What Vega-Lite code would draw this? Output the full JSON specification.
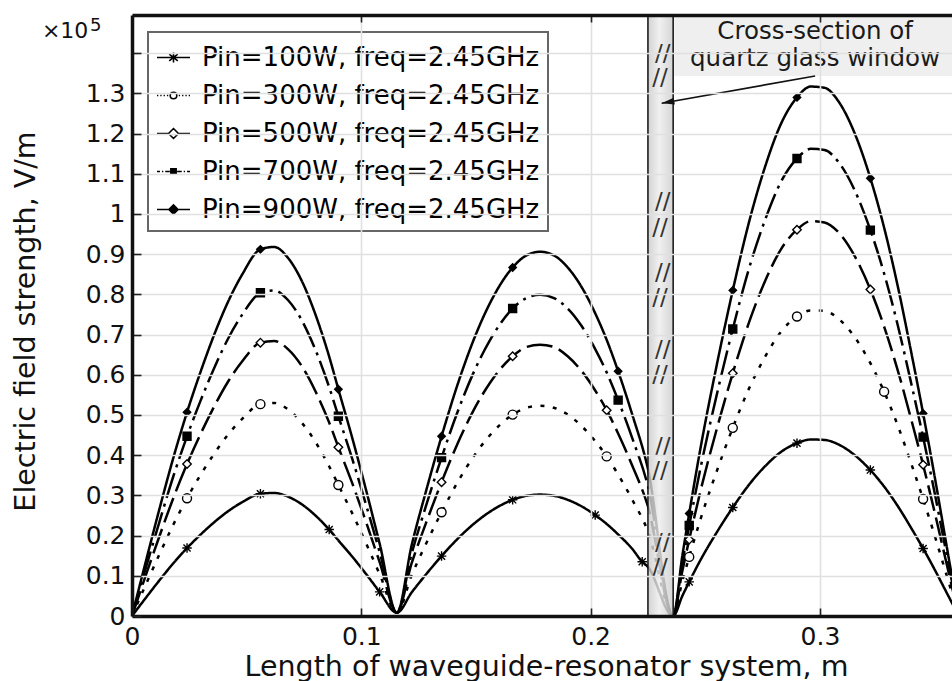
{
  "$schema": "https://vega.github.io/schema/vega-lite/v6.json",
  "width": 820,
  "height": 601,
  "autosize": {"type": "none"},
  "padding": {"left": 132, "top": 15, "right": 0, "bottom": 65},
  "background": "white",
  "config": {
    "view": {"stroke": null},
    "font": "DejaVu Sans",
    "axis": {"domainColor": "#111", "domainWidth": 3.5, "tickColor": "#222", "tickWidth": 1.6, "gridColor": "#e0e0e0", "gridWidth": 1.6, "labelFont": "DejaVu Sans", "labelFontSize": 25, "labelColor": "#111", "titleFont": "DejaVu Sans", "titleFontSize": 28.5, "titleFontWeight": "normal", "titleColor": "#111", "labelFlush": false, "labelOverlap": false},
    "legend": {"strokeWidth": 2}
  },
  "datasets": {
    "c": [
      {"s":"100","x":0,"y":0},{"s":"100","x":0.006,"y":0.045},{"s":"100","x":0.012,"y":0.089},{"s":"100","x":0.018,"y":0.131},{"s":"100","x":0.024,"y":0.169,"m":1},{"s":"100","x":0.03,"y":0.203},{"s":"100","x":0.036,"y":0.234},{"s":"100","x":0.042,"y":0.261},{"s":"100","x":0.048,"y":0.283},{"s":"100","x":0.056,"y":0.304,"m":1},{"s":"100","x":0.062,"y":0.306},{"s":"100","x":0.068,"y":0.297},{"s":"100","x":0.074,"y":0.278},{"s":"100","x":0.08,"y":0.25},{"s":"100","x":0.086,"y":0.215,"m":1},{"s":"100","x":0.09,"y":0.188},{"s":"100","x":0.096,"y":0.148},{"s":"100","x":0.102,"y":0.105},{"s":"100","x":0.108,"y":0.06,"m":1},{"s":"100","x":0.1155,"y":0.008},{"s":"100","x":0.122,"y":0.059},{"s":"100","x":0.128,"y":0.102},{"s":"100","x":0.135,"y":0.149,"m":1},{"s":"100","x":0.142,"y":0.192},{"s":"100","x":0.149,"y":0.229},{"s":"100","x":0.156,"y":0.259},{"s":"100","x":0.166,"y":0.289,"m":1},{"s":"100","x":0.172,"y":0.299},{"s":"100","x":0.178,"y":0.302},{"s":"100","x":0.184,"y":0.299},{"s":"100","x":0.19,"y":0.289},{"s":"100","x":0.196,"y":0.273},{"s":"100","x":0.202,"y":0.251,"m":1},{"s":"100","x":0.207,"y":0.229},{"s":"100","x":0.212,"y":0.203},{"s":"100","x":0.218,"y":0.168},{"s":"100","x":0.2225,"y":0.135,"m":1},{"s":"100","x":0.225,"y":0.122},{"s":"100","x":0.236,"y":0},{"s":"100","x":0.24,"y":0.05},{"s":"100","x":0.243,"y":0.085,"m":1},{"s":"100","x":0.248,"y":0.14},{"s":"100","x":0.255,"y":0.208},{"s":"100","x":0.262,"y":0.27,"m":1},{"s":"100","x":0.269,"y":0.326},{"s":"100","x":0.276,"y":0.372},{"s":"100","x":0.283,"y":0.408},{"s":"100","x":0.29,"y":0.43,"m":1},{"s":"100","x":0.296,"y":0.439},{"s":"100","x":0.302,"y":0.438},{"s":"100","x":0.308,"y":0.427},{"s":"100","x":0.315,"y":0.401},{"s":"100","x":0.322,"y":0.363,"m":1},{"s":"100","x":0.328,"y":0.322},{"s":"100","x":0.334,"y":0.273},{"s":"100","x":0.34,"y":0.217},{"s":"100","x":0.345,"y":0.168,"m":1},{"s":"100","x":0.35,"y":0.116},{"s":"100","x":0.355,"y":0.061},{"s":"100","x":0.36,"y":0.006},

      {"s":"300","x":0,"y":0},{"s":"300","x":0.006,"y":0.078},{"s":"300","x":0.012,"y":0.154},{"s":"300","x":0.018,"y":0.227},{"s":"300","x":0.024,"y":0.293,"m":1},{"s":"300","x":0.03,"y":0.352},{"s":"300","x":0.036,"y":0.405},{"s":"300","x":0.042,"y":0.452},{"s":"300","x":0.048,"y":0.49},{"s":"300","x":0.056,"y":0.527,"m":1},{"s":"300","x":0.062,"y":0.53},{"s":"300","x":0.068,"y":0.514},{"s":"300","x":0.074,"y":0.481},{"s":"300","x":0.08,"y":0.433},{"s":"300","x":0.086,"y":0.372},{"s":"300","x":0.09,"y":0.326,"m":1},{"s":"300","x":0.096,"y":0.256},{"s":"300","x":0.102,"y":0.182},{"s":"300","x":0.108,"y":0.104},{"s":"300","x":0.1155,"y":0.008},{"s":"300","x":0.122,"y":0.102},{"s":"300","x":0.128,"y":0.177},{"s":"300","x":0.135,"y":0.258,"m":1},{"s":"300","x":0.142,"y":0.333},{"s":"300","x":0.149,"y":0.397},{"s":"300","x":0.156,"y":0.449},{"s":"300","x":0.166,"y":0.501,"m":1},{"s":"300","x":0.172,"y":0.518},{"s":"300","x":0.178,"y":0.523},{"s":"300","x":0.184,"y":0.518},{"s":"300","x":0.19,"y":0.501},{"s":"300","x":0.196,"y":0.473},{"s":"300","x":0.202,"y":0.435},{"s":"300","x":0.207,"y":0.397,"m":1},{"s":"300","x":0.212,"y":0.352},{"s":"300","x":0.218,"y":0.291},{"s":"300","x":0.225,"y":0.211},{"s":"300","x":0.236,"y":0},{"s":"300","x":0.24,"y":0.087},{"s":"300","x":0.243,"y":0.147,"m":1},{"s":"300","x":0.248,"y":0.242},{"s":"300","x":0.255,"y":0.36},{"s":"300","x":0.262,"y":0.468,"m":1},{"s":"300","x":0.269,"y":0.565},{"s":"300","x":0.276,"y":0.644},{"s":"300","x":0.283,"y":0.707},{"s":"300","x":0.29,"y":0.745,"m":1},{"s":"300","x":0.296,"y":0.76},{"s":"300","x":0.302,"y":0.759},{"s":"300","x":0.308,"y":0.74},{"s":"300","x":0.315,"y":0.695},{"s":"300","x":0.322,"y":0.629},{"s":"300","x":0.328,"y":0.558,"m":1},{"s":"300","x":0.334,"y":0.473},{"s":"300","x":0.34,"y":0.376},{"s":"300","x":0.345,"y":0.291,"m":1},{"s":"300","x":0.35,"y":0.201},{"s":"300","x":0.355,"y":0.106},{"s":"300","x":0.36,"y":0.01},

      {"s":"500","x":0,"y":0},{"s":"500","x":0.006,"y":0.101},{"s":"500","x":0.012,"y":0.199},{"s":"500","x":0.018,"y":0.293},{"s":"500","x":0.024,"y":0.378,"m":1},{"s":"500","x":0.03,"y":0.454},{"s":"500","x":0.036,"y":0.523},{"s":"500","x":0.042,"y":0.584},{"s":"500","x":0.048,"y":0.633},{"s":"500","x":0.056,"y":0.68,"m":1},{"s":"500","x":0.062,"y":0.684},{"s":"500","x":0.068,"y":0.664},{"s":"500","x":0.074,"y":0.622},{"s":"500","x":0.08,"y":0.559},{"s":"500","x":0.086,"y":0.481},{"s":"500","x":0.09,"y":0.42,"m":1},{"s":"500","x":0.096,"y":0.331},{"s":"500","x":0.102,"y":0.235},{"s":"500","x":0.108,"y":0.134},{"s":"500","x":0.1155,"y":0.008},{"s":"500","x":0.122,"y":0.132},{"s":"500","x":0.128,"y":0.228},{"s":"500","x":0.135,"y":0.333,"m":1},{"s":"500","x":0.142,"y":0.429},{"s":"500","x":0.149,"y":0.512},{"s":"500","x":0.156,"y":0.579},{"s":"500","x":0.166,"y":0.646,"m":1},{"s":"500","x":0.172,"y":0.669},{"s":"500","x":0.178,"y":0.675},{"s":"500","x":0.184,"y":0.669},{"s":"500","x":0.19,"y":0.646},{"s":"500","x":0.196,"y":0.61},{"s":"500","x":0.202,"y":0.561},{"s":"500","x":0.207,"y":0.512,"m":1},{"s":"500","x":0.212,"y":0.454},{"s":"500","x":0.218,"y":0.376},{"s":"500","x":0.225,"y":0.273},{"s":"500","x":0.236,"y":0},{"s":"500","x":0.24,"y":0.112},{"s":"500","x":0.243,"y":0.19,"m":1},{"s":"500","x":0.248,"y":0.313},{"s":"500","x":0.255,"y":0.465},{"s":"500","x":0.262,"y":0.604,"m":1},{"s":"500","x":0.269,"y":0.729},{"s":"500","x":0.276,"y":0.832},{"s":"500","x":0.283,"y":0.912},{"s":"500","x":0.29,"y":0.961,"m":1},{"s":"500","x":0.296,"y":0.982},{"s":"500","x":0.302,"y":0.979},{"s":"500","x":0.308,"y":0.955},{"s":"500","x":0.315,"y":0.897},{"s":"500","x":0.322,"y":0.812,"m":1},{"s":"500","x":0.328,"y":0.72},{"s":"500","x":0.334,"y":0.61},{"s":"500","x":0.34,"y":0.485},{"s":"500","x":0.345,"y":0.376,"m":1},{"s":"500","x":0.35,"y":0.259},{"s":"500","x":0.355,"y":0.136},{"s":"500","x":0.36,"y":0.013},

      {"s":"700","x":0,"y":0},{"s":"700","x":0.006,"y":0.119},{"s":"700","x":0.012,"y":0.235},{"s":"700","x":0.018,"y":0.347},{"s":"700","x":0.024,"y":0.447,"m":1},{"s":"700","x":0.03,"y":0.537},{"s":"700","x":0.036,"y":0.619},{"s":"700","x":0.042,"y":0.691},{"s":"700","x":0.048,"y":0.749},{"s":"700","x":0.056,"y":0.804,"m":1},{"s":"700","x":0.062,"y":0.81},{"s":"700","x":0.068,"y":0.786},{"s":"700","x":0.074,"y":0.736},{"s":"700","x":0.08,"y":0.662},{"s":"700","x":0.086,"y":0.569},{"s":"700","x":0.09,"y":0.497,"m":1},{"s":"700","x":0.096,"y":0.392},{"s":"700","x":0.102,"y":0.278},{"s":"700","x":0.108,"y":0.159},{"s":"700","x":0.1155,"y":0.008},{"s":"700","x":0.122,"y":0.156},{"s":"700","x":0.128,"y":0.27},{"s":"700","x":0.135,"y":0.394,"m":1},{"s":"700","x":0.142,"y":0.508},{"s":"700","x":0.149,"y":0.606},{"s":"700","x":0.156,"y":0.685},{"s":"700","x":0.166,"y":0.765,"m":1},{"s":"700","x":0.172,"y":0.791},{"s":"700","x":0.178,"y":0.799},{"s":"700","x":0.184,"y":0.791},{"s":"700","x":0.19,"y":0.765},{"s":"700","x":0.196,"y":0.722},{"s":"700","x":0.202,"y":0.664},{"s":"700","x":0.207,"y":0.606},{"s":"700","x":0.212,"y":0.537,"m":1},{"s":"700","x":0.218,"y":0.445},{"s":"700","x":0.225,"y":0.323},{"s":"700","x":0.236,"y":0},{"s":"700","x":0.24,"y":0.132},{"s":"700","x":0.243,"y":0.225,"m":1},{"s":"700","x":0.248,"y":0.37},{"s":"700","x":0.255,"y":0.55},{"s":"700","x":0.262,"y":0.714,"m":1},{"s":"700","x":0.269,"y":0.863},{"s":"700","x":0.276,"y":0.984},{"s":"700","x":0.283,"y":1.08},{"s":"700","x":0.29,"y":1.138,"m":1},{"s":"700","x":0.296,"y":1.162},{"s":"700","x":0.302,"y":1.159},{"s":"700","x":0.308,"y":1.13},{"s":"700","x":0.315,"y":1.061},{"s":"700","x":0.322,"y":0.96,"m":1},{"s":"700","x":0.328,"y":0.852},{"s":"700","x":0.334,"y":0.722},{"s":"700","x":0.34,"y":0.574},{"s":"700","x":0.345,"y":0.445,"m":1},{"s":"700","x":0.35,"y":0.307},{"s":"700","x":0.355,"y":0.161},{"s":"700","x":0.36,"y":0.016},

      {"s":"900","x":0,"y":0},{"s":"900","x":0.006,"y":0.135},{"s":"900","x":0.012,"y":0.267},{"s":"900","x":0.018,"y":0.393},{"s":"900","x":0.024,"y":0.507,"m":1},{"s":"900","x":0.03,"y":0.609},{"s":"900","x":0.036,"y":0.702},{"s":"900","x":0.042,"y":0.783},{"s":"900","x":0.048,"y":0.849},{"s":"900","x":0.056,"y":0.912,"m":1},{"s":"900","x":0.062,"y":0.918},{"s":"900","x":0.068,"y":0.891},{"s":"900","x":0.074,"y":0.834},{"s":"900","x":0.08,"y":0.75},{"s":"900","x":0.086,"y":0.645},{"s":"900","x":0.09,"y":0.564,"m":1},{"s":"900","x":0.096,"y":0.444},{"s":"900","x":0.102,"y":0.315},{"s":"900","x":0.108,"y":0.18},{"s":"900","x":0.1155,"y":0.008},{"s":"900","x":0.122,"y":0.177},{"s":"900","x":0.128,"y":0.306},{"s":"900","x":0.135,"y":0.447,"m":1},{"s":"900","x":0.142,"y":0.576},{"s":"900","x":0.149,"y":0.687},{"s":"900","x":0.156,"y":0.777},{"s":"900","x":0.166,"y":0.867,"m":1},{"s":"900","x":0.172,"y":0.897},{"s":"900","x":0.178,"y":0.906},{"s":"900","x":0.184,"y":0.897},{"s":"900","x":0.19,"y":0.867},{"s":"900","x":0.196,"y":0.819},{"s":"900","x":0.202,"y":0.753},{"s":"900","x":0.207,"y":0.687},{"s":"900","x":0.212,"y":0.609,"m":1},{"s":"900","x":0.218,"y":0.504},{"s":"900","x":0.225,"y":0.366},{"s":"900","x":0.236,"y":0},{"s":"900","x":0.24,"y":0.15},{"s":"900","x":0.243,"y":0.255,"m":1},{"s":"900","x":0.248,"y":0.42},{"s":"900","x":0.255,"y":0.624},{"s":"900","x":0.262,"y":0.81,"m":1},{"s":"900","x":0.269,"y":0.978},{"s":"900","x":0.276,"y":1.116},{"s":"900","x":0.283,"y":1.224},{"s":"900","x":0.29,"y":1.29,"m":1},{"s":"900","x":0.296,"y":1.317},{"s":"900","x":0.302,"y":1.314},{"s":"900","x":0.308,"y":1.281},{"s":"900","x":0.315,"y":1.203},{"s":"900","x":0.322,"y":1.089,"m":1},{"s":"900","x":0.328,"y":0.966},{"s":"900","x":0.334,"y":0.819},{"s":"900","x":0.34,"y":0.651},{"s":"900","x":0.345,"y":0.504,"m":1},{"s":"900","x":0.35,"y":0.348},{"s":"900","x":0.355,"y":0.183},{"s":"900","x":0.36,"y":0.018}
    ]
  },
  "resolve": {"scale": {"shape": "independent", "fill": "independent", "size": "independent"}, "axis": {"x": "independent"}},
  "layer": [
    {
      "data": {"values": [{"x": 0.2365, "x2": 0.3576, "y": 1.343, "y2": 1.495}]},
      "mark": {"type": "rect", "fill": "#efefef"},
      "encoding": {
        "x": {"field": "x", "type": "quantitative", "scale": {"domain": [0, 0.3576], "nice": false}, "axis": null},
        "x2": {"field": "x2"},
        "y": {"field": "y", "type": "quantitative", "scale": {"domain": [0, 1.495], "nice": false}},
        "y2": {"field": "y2"}
      }
    },
    {
      "data": {"name": "c"},
      "mark": {"type": "line", "color": "black", "strokeWidth": 2.5, "clip": true, "interpolate": "monotone"},
      "encoding": {
        "x": {"field": "x", "type": "quantitative", "scale": {"domain": [0, 0.3576], "nice": false},
          "axis": {"values": [0, 0.1, 0.2, 0.3], "format": ".1~f", "title": "Length of waveguide-resonator system, m", "tickSize": -8, "labelPadding": 16, "titlePadding": 3, "titleX": 414, "grid": true, "zindex": 1}},
        "y": {"field": "y", "type": "quantitative", "scale": {"domain": [0, 1.495], "nice": false},
          "axis": {"orient": "left", "values": [0, 0.1, 0.2, 0.3, 0.4, 0.5, 0.6, 0.7, 0.8, 0.9, 1, 1.1, 1.2, 1.3, 1.4], "format": ".1~f", "labelExpr": "datum.value > 1.35 ? '' : datum.label", "title": "Electric field strength, V/m", "tickSize": -9, "labelPadding": 16, "titlePadding": 45, "titleY": 306, "grid": true, "zindex": 1}},
        "strokeDash": {"field": "s", "type": "nominal", "scale": {"domain": ["100", "300", "500", "700", "900"], "range": [[1, 0], [4, 8.5], [26, 7], [26, 6, 3, 6], [1, 0]]}, "legend": null}
      }
    },
    {
      "data": {"name": "c"},
      "transform": [{"filter": "datum.m == 1"}],
      "mark": {"type": "point", "opacity": 1, "stroke": "black", "strokeWidth": 1.4},
      "encoding": {
        "x": {"field": "x", "type": "quantitative", "scale": {"domain": [0, 0.3576], "nice": false}, "axis": null},
        "y": {"field": "y", "type": "quantitative", "scale": {"domain": [0, 1.495], "nice": false}},
        "shape": {"field": "s", "type": "nominal", "scale": {"domain": ["100", "300", "500", "700", "900"], "range": ["M-1,0H1M0,-1V1M-0.75,-0.75L0.75,0.75M-0.75,0.75L0.75,-0.75", "circle", "diamond", "square", "diamond"]}, "legend": null},
        "fill": {"field": "s", "type": "nominal", "scale": {"domain": ["100", "300", "500", "700", "900"], "range": ["black", "white", "white", "black", "black"]}, "legend": null},
        "size": {"field": "s", "type": "nominal", "scale": {"domain": ["100", "300", "500", "700", "900"], "range": [90, 55, 65, 36, 50]}, "legend": null}
      }
    },
    {
      "data": {"name": "c"},
      "transform": [{"filter": "datum.x < -1"}],
      "mark": {"type": "point", "opacity": 1, "stroke": "black", "strokeWidth": 1.6},
      "encoding": {
        "x": {"field": "x", "type": "quantitative", "scale": {"domain": [0, 0.3576], "nice": false}, "axis": null},
        "y": {"field": "y", "type": "quantitative", "scale": {"domain": [0, 1.495], "nice": false}},
        "shape": {"field": "s", "type": "nominal",
          "scale": {"domain": ["100", "300", "500", "700", "900"], "range": [
            "M-1,0H1M0,-0.3V0.3M-0.26,-0.2L0.26,0.2M-0.26,0.2L0.26,-0.2",
            "M-1,0H-0.92M-0.8,0H-0.72M-0.6,0H-0.52M-0.4,0H-0.32M0.2,0A0.2 0.2 0 1 1 -0.2 0A0.2 0.2 0 1 1 0.2 0ZM0.32,0H0.4M0.52,0H0.6M0.72,0H0.8M0.92,0H1",
            "M-1,0H-0.3M0.3,0H1M0.3,0L0,-0.3L-0.3,0L0,0.3Z",
            "M-1,0H-0.82M-0.7,0H-0.62M-0.5,0H-0.22M-0.16,-0.16H0.16V0.16H-0.16ZM0.22,0H0.5M0.62,0H0.7M0.82,0H1",
            "M-1,0H1M0.28,0L0,-0.28L-0.28,0L0,0.28Z"]},
          "legend": {"orient": "none", "legendX": 16, "legendY": 17, "title": null, "labelExpr": "'Pin=' + datum.label + 'W, freq=2.45GHz'", "symbolSize": 1089, "symbolStrokeWidth": 1.6, "symbolStrokeColor": "black", "symbolOpacity": 1, "labelFontSize": 26, "labelFont": "DejaVu Sans", "labelColor": "black", "labelLimit": 600, "padding": 8, "rowPadding": 7, "labelOffset": 11, "fillColor": "white", "strokeColor": "#666",
            "encode": {"legend": {"update": {"strokeWidth": {"value": 2}}}, "symbols": {"update": {"stroke": {"value": "black"}, "strokeWidth": {"value": 1.6}, "opacity": {"value": 1}}}}}},
        "fill": {"field": "s", "type": "nominal",
          "scale": {"domain": ["100", "300", "500", "700", "900"], "range": ["black", "white", "white", "black", "black"]},
          "legend": {"orient": "none", "legendX": 16, "legendY": 17, "title": null, "labelExpr": "'Pin=' + datum.label + 'W, freq=2.45GHz'", "symbolSize": 1089, "symbolStrokeWidth": 1.6, "symbolStrokeColor": "black", "symbolOpacity": 1, "labelFontSize": 26, "labelFont": "DejaVu Sans", "labelColor": "black", "labelLimit": 600, "padding": 8, "rowPadding": 7, "labelOffset": 11, "fillColor": "white", "strokeColor": "#666",
            "encode": {"legend": {"update": {"strokeWidth": {"value": 2}}}, "symbols": {"update": {"stroke": {"value": "black"}, "strokeWidth": {"value": 1.6}, "opacity": {"value": 1}}}}}}
      }
    },
    {
      "data": {"values": [{"x": 0.225, "x2": 0.236}]},
      "mark": {"type": "rect", "stroke": "#111", "strokeWidth": 1.5, "fillOpacity": 0.82,
        "fill": {"gradient": "linear", "x1": 0, "x2": 1, "y1": 0, "y2": 0, "stops": [{"offset": 0, "color": "#c9c9c9"}, {"offset": 0.45, "color": "#ededed"}, {"offset": 1, "color": "#cccccc"}]}},
      "encoding": {
        "x": {"field": "x", "type": "quantitative", "scale": {"domain": [0, 0.3576], "nice": false},
          "axis": {"orient": "top", "values": [0.1, 0.2, 0.3], "labels": false, "tickSize": -7, "grid": false, "title": null, "zindex": 1}},
        "x2": {"field": "x2"}
      }
    },
    {
      "data": {"values": [
        {"x": 0.2315, "y": 1.398}, {"x": 0.2303, "y": 1.338},
        {"x": 0.2315, "y": 1.03}, {"x": 0.2303, "y": 0.965},
        {"x": 0.2315, "y": 0.853}, {"x": 0.2303, "y": 0.791},
        {"x": 0.2315, "y": 0.662}, {"x": 0.2303, "y": 0.6},
        {"x": 0.2315, "y": 0.42}, {"x": 0.2303, "y": 0.361},
        {"x": 0.2315, "y": 0.182}, {"x": 0.2303, "y": 0.119}
      ]},
      "mark": {"type": "text", "text": "//", "fontSize": 23, "font": "DejaVu Sans", "color": "#333", "align": "center", "baseline": "middle"},
      "encoding": {
        "x": {"field": "x", "type": "quantitative", "scale": {"domain": [0, 0.3576], "nice": false}, "axis": null},
        "y": {"field": "y", "type": "quantitative", "scale": {"domain": [0, 1.495], "nice": false}}
      }
    },
    {
      "data": {"values": [{"x": 0.2979, "y": 1.3433, "x2": 0.231, "y2": 1.2754}]},
      "mark": {"type": "rule", "color": "#111", "strokeWidth": 1.6},
      "encoding": {
        "x": {"field": "x", "type": "quantitative", "scale": {"domain": [0, 0.3576], "nice": false}, "axis": null},
        "y": {"field": "y", "type": "quantitative", "scale": {"domain": [0, 1.495], "nice": false}},
        "x2": {"field": "x2"},
        "y2": {"field": "y2"}
      }
    },
    {
      "data": {"values": [{"x": 0.231, "y": 1.2754}]},
      "mark": {"type": "point", "shape": "M0,0L-0.45,1.7L0.45,1.7Z", "size": 225, "angle": 260, "filled": true, "color": "#111", "opacity": 1},
      "encoding": {
        "x": {"field": "x", "type": "quantitative", "scale": {"domain": [0, 0.3576], "nice": false}, "axis": null},
        "y": {"field": "y", "type": "quantitative", "scale": {"domain": [0, 1.495], "nice": false}}
      }
    },
    {
      "data": {"values": [{"x": 0.2979, "y": 1.4346, "t": "Cross-section of"}, {"x": 0.2979, "y": 1.3669, "t": "quartz glass window"}]},
      "mark": {"type": "text", "fontSize": 24.5, "font": "DejaVu Sans", "color": "#1a1a1a", "align": "center", "baseline": "alphabetic"},
      "encoding": {
        "x": {"field": "x", "type": "quantitative", "scale": {"domain": [0, 0.3576], "nice": false}, "axis": null},
        "y": {"field": "y", "type": "quantitative", "scale": {"domain": [0, 1.495], "nice": false}},
        "text": {"field": "t"}
      }
    },
    {
      "data": {"values": [{"x": -0.0393, "y": 1.438, "t": "×10"}]},
      "mark": {"type": "text", "fontSize": 22, "font": "DejaVu Sans", "color": "#111", "align": "left", "baseline": "alphabetic"},
      "encoding": {
        "x": {"field": "x", "type": "quantitative", "scale": {"domain": [0, 0.3576], "nice": false}, "axis": null},
        "y": {"field": "y", "type": "quantitative", "scale": {"domain": [0, 1.495], "nice": false}},
        "text": {"field": "t"}
      }
    },
    {
      "data": {"values": [{"x": -0.0183, "y": 1.455, "t": "5"}]},
      "mark": {"type": "text", "fontSize": 18, "font": "DejaVu Sans", "color": "#111", "align": "left", "baseline": "alphabetic"},
      "encoding": {
        "x": {"field": "x", "type": "quantitative", "scale": {"domain": [0, 0.3576], "nice": false}, "axis": null},
        "y": {"field": "y", "type": "quantitative", "scale": {"domain": [0, 1.495], "nice": false}},
        "text": {"field": "t"}
      }
    }
  ]
}
